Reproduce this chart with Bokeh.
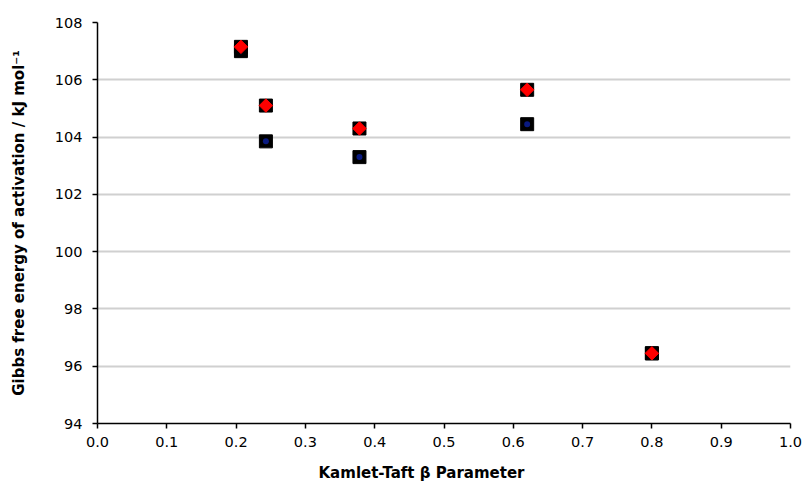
import math
from bokeh.plotting import figure
from bokeh.models import FixedTicker, PrintfTickFormatter, Range1d, Title
from bokeh.embed import file_html
from bokeh.resources import INLINE

# Data
beta = [0.207, 0.243, 0.378, 0.620, 0.800]
dg_series1 = [107.0, 103.85, 103.3, 104.45, 96.45]   # black squares with navy centre
dg_series2 = [107.15, 105.1, 104.3, 105.65, 96.45]   # black squares with red diamond

x_ticks = [0.0, 0.1, 0.2, 0.3, 0.4, 0.5, 0.6, 0.7, 0.8, 0.9, 1.0]
y_ticks = [94, 96, 98, 100, 102, 104, 106, 108]

x_title = "Kamlet-Taft β Parameter"
y_title = "Gibbs free energy of activation / kJ mol⁻¹"

p = figure(width=805, height=485, output_backend="svg", toolbar_location=None,
           x_range=Range1d(0, 1), y_range=Range1d(94, 108),
           min_border_left=97, min_border_right=15, min_border_top=22, min_border_bottom=62)

p.outline_line_color = None
p.background_fill_color = "white"
p.border_fill_color = "white"

p.xaxis.ticker = FixedTicker(ticks=x_ticks)
p.yaxis.ticker = FixedTicker(ticks=y_ticks)
p.xaxis.formatter = PrintfTickFormatter(format="%.1f")
p.yaxis.formatter = PrintfTickFormatter(format="%d")

for ax in (p.xaxis[0], p.yaxis[0]):
    ax.axis_line_color = "black"
    ax.axis_line_width = 1.5
    ax.major_tick_line_color = "black"
    ax.major_tick_line_width = 1.5
    ax.major_tick_in = 0
    ax.major_tick_out = 5
    ax.minor_tick_line_color = None
    ax.major_label_text_font = "DejaVu Sans"
    ax.major_label_text_font_size = "14.5px"
    ax.major_label_text_color = "black"
    ax.axis_label_text_font = "DejaVu Sans"
    ax.axis_label_text_font_size = "15px"
    ax.axis_label_text_font_style = "bold"
    ax.axis_label_text_color = "black"

p.yaxis.axis_label = y_title
p.xaxis.major_label_standoff = 8
p.yaxis.major_label_standoff = 10
p.yaxis.axis_label_standoff = 24

# spacer below the x tick labels
p.xaxis.axis_label = " "
p.xaxis.axis_label_text_font_size = "6px"
p.xaxis.axis_label_standoff = 2

# x-axis title, slightly left of the frame centre as in the reference
p.add_layout(Title(text=x_title, align="left", offset=221, standoff=0,
                   text_font="DejaVu Sans", text_font_size="15px",
                   text_font_style="bold", text_color="black"), "below")

p.xgrid.grid_line_color = None
p.ygrid.grid_line_color = "#d0d0d0"
p.ygrid.grid_line_width = 2

# Series 1
p.scatter(beta, dg_series1, marker="square", size=13, fill_color="black", line_color="black")
p.scatter(beta, dg_series1, marker="circle", size=6, fill_color="#0a1a80", line_color=None)
# Series 2
p.scatter(beta, dg_series2, marker="square", size=13, fill_color="black", line_color="black")
p.scatter(beta, dg_series2, marker="square", size=9.5, angle=math.pi / 4,
          fill_color="#ff0000", line_color="#ff0000", line_width=1)

open("out.html", "w").write(file_html(p, INLINE))
